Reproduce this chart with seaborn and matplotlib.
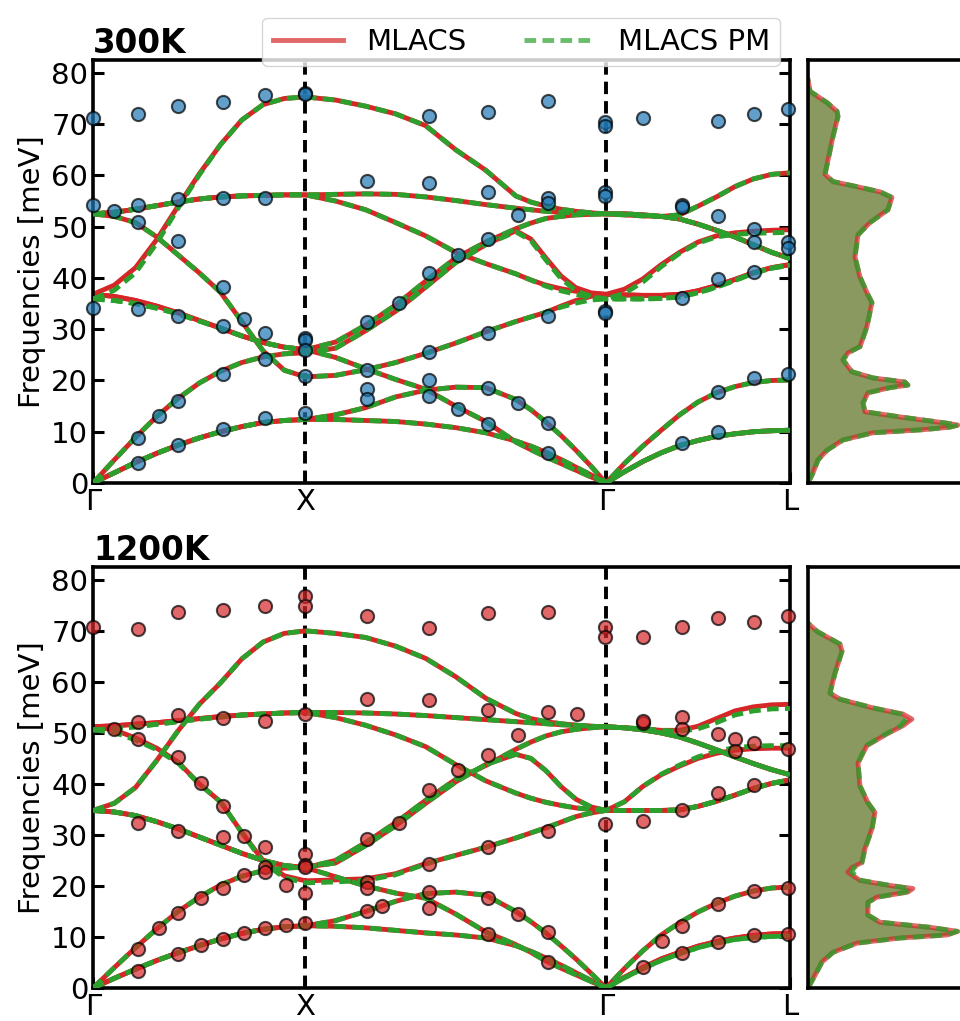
import numpy as np
import pandas as pd
import matplotlib
matplotlib.use("Agg")
import matplotlib.pyplot as plt
from matplotlib.lines import Line2D
import seaborn as sns

RED = "#d62728"
GREEN = "#2ca02c"

# q-path Γ-X-Γ-L of the fcc cell, segment lengths in 2π/a
SEG_LEN = [1.0, np.sqrt(2), np.sqrt(3) / 2]
HSP_LABELS = ["Γ", "X", "Γ", "L"]
T_GX = [0, .1, .2, .3, .4, .5, .6, .7, .8, .9, 1.0]
T_XG = [.1, .2, .3, .4, .5, .6, .7, .75, .8, .85, .9, .95, 1.0]
T_GL = [.1, .2, .3, .4, .5, .6, .7, .8, .9, 1.0]

# ---------------- 300 K ----------------
# Γ-X
gx_ta_300 = [0, 2.0, 4.0, 5.8, 7.4, 8.8, 10.0, 11.0, 11.8, 12.2, 12.4]
gx_la_300 = [0, 4.5, 8.9, 13.0, 16.5, 19.5, 21.8, 23.5, 24.6, 25.2, 25.4]
gx_to_300 = [36.8, 36.4, 35.6, 34.5, 33.2, 31.7, 30.2, 28.7, 27.4, 26.5, 26.0]
gx_to_300_pm = [35.9, 35.6, 35.0, 34.1, 33.0, 31.6, 30.2, 28.7, 27.4, 26.5, 26.0]
gx_lo_300 = [36.8, 38.6, 42.0, 47.5, 54.0, 60.3, 66.0, 70.8, 73.8, 75.0, 75.3]
gx_lo_300_pm = [35.9, 37.6, 41.0, 46.8, 53.6, 60.1, 66.0, 70.8, 73.8, 75.0, 75.3]
gx_rt_300 = [52.5, 52.8, 53.4, 54.1, 54.8, 55.4, 55.8, 56.0, 56.1, 56.2, 56.2]
gx_rl_300 = [52.5, 52.0, 50.8, 48.0, 44.5, 41.0, 37.2, 31.5, 25.8, 22.0, 20.7]
# X-Γ
xg_g1_300 = [12.4, 12.2, 12.0, 11.5, 10.8, 9.8, 8.2, 7.2, 6.0, 4.6, 3.1, 1.6, 0]
xg_g2_300 = [13.3, 14.7, 16.8, 18.1, 18.7, 18.6, 16.3, 14.3, 11.9, 9.3, 6.4, 3.3, 0]
xg_g3_300 = [24.5, 22.3, 20.2, 18.3, 15.0, 12.0, 8.0, 6.5, 5.1, 3.8, 2.5, 1.2, 0]
xg_d_300 = [27.5, 30.8, 34.7, 39.4, 43.9, 47.0, 49.6, 50.7, 51.6, 52.0, 52.3, 52.4, 52.5]
xg_e_300 = [26.3, 29.7, 33.5, 38.2, 43.0, 46.5, 49.2, 47.6, 43.9, 40.4, 38.1, 37.1, 36.8]
xg_e_300_pm = [26.3, 29.7, 33.5, 38.2, 43.0, 46.5, 49.0, 47.3, 43.5, 39.9, 37.5, 36.4, 35.9]
xg_f_300 = [21.0, 22.1, 23.5, 25.3, 27.3, 29.5, 31.5, 32.4, 33.3, 34.5, 35.6, 36.4, 36.8]
xg_f_300_pm = [21.0, 22.1, 23.5, 25.3, 27.3, 29.5, 31.5, 32.4, 33.3, 34.3, 35.1, 35.7, 35.9]
xg_a_300 = [74.7, 73.5, 72.0, 69.7, 65.0, 61.0, 56.0, 54.8, 54.0, 53.4, 53.0, 52.7, 52.5]
xg_b_300 = [56.3, 56.4, 56.3, 55.8, 55.1, 54.3, 53.6, 53.3, 53.0, 52.8, 52.7, 52.6, 52.5]
xg_c_300 = [55.0, 53.3, 50.8, 48.2, 45.0, 42.8, 40.8, 39.6, 38.6, 37.9, 37.4, 37.0, 36.8]
xg_c_300_pm = [55.0, 53.3, 50.8, 48.2, 45.0, 42.8, 40.8, 39.6, 38.4, 37.5, 36.8, 36.2, 35.9]
# Γ-L
gl_ta_300 = [2.2, 4.2, 5.9, 7.3, 8.3, 9.1, 9.6, 10.0, 10.2, 10.3]
gl_la_300 = [3.8, 7.2, 10.3, 13.3, 15.8, 17.6, 18.8, 19.6, 20.0, 20.1]
gl_to_300 = [36.7, 36.6, 36.6, 36.8, 37.5, 38.5, 39.7, 41.0, 42.0, 42.6]
gl_to_300_pm = [35.9, 35.9, 36.0, 36.3, 37.1, 38.2, 39.5, 40.9, 41.9, 42.5]
gl_lo_300 = [37.8, 39.8, 42.6, 45.0, 47.0, 48.2, 48.8, 49.1, 49.3, 49.4]
gl_lo_300_pm = [37.0, 39.2, 42.2, 44.8, 46.8, 48.0, 48.5, 48.7, 48.8, 48.9]
gl_r_300 = [52.5, 52.3, 52.0, 51.5, 50.5, 49.3, 48.0, 46.5, 45.0, 43.8]
gl_top_300 = [52.3, 52.1, 52.0, 52.3, 54.0, 55.8, 57.8, 59.3, 60.2, 60.5]

# ---------------- 1200 K ----------------
gx_ta_1200 = [0, 1.9, 3.7, 5.4, 6.9, 8.3, 9.6, 10.7, 11.5, 12.0, 12.2]
gx_la_1200 = [0, 4.0, 7.9, 11.6, 15.0, 17.8, 20.2, 21.9, 23.0, 23.5, 23.7]
gx_to_1200 = [34.8, 34.5, 33.8, 32.6, 31.2, 29.6, 28.0, 26.4, 25.0, 24.0, 23.6]
gx_lo_1200 = [34.8, 36.2, 39.3, 44.6, 50.4, 55.6, 59.8, 64.5, 67.8, 69.5, 70.0]
gx_rt_1200 = [51.2, 51.4, 51.7, 52.0, 52.4, 52.8, 53.2, 53.5, 53.7, 53.9, 54.0]
gx_rt_1200_pm = [50.6, 50.8, 51.2, 51.7, 52.2, 52.7, 53.1, 53.5, 53.7, 53.9, 54.0]
gx_rl_1200 = [51.2, 50.6, 49.0, 47.0, 44.3, 40.0, 36.5, 30.5, 25.0, 22.0, 21.0]
gx_rl_1200_pm = [50.6, 50.1, 48.6, 46.7, 44.1, 40.0, 36.5, 30.5, 24.7, 21.6, 20.6]
xg_g1_1200 = [12.1, 11.8, 11.3, 10.8, 10.4, 9.8, 8.3, 7.2, 5.9, 4.5, 3.0, 1.5, 0]
xg_g2_1200 = [13.2, 15.0, 17.0, 18.5, 18.8, 18.2, 15.0, 13.0, 10.8, 8.3, 5.7, 2.9, 0]
xg_g3_1200 = [21.8, 20.0, 18.6, 17.6, 14.5, 11.0, 8.5, 7.0, 5.3, 3.9, 2.6, 1.3, 0]
xg_d_1200 = [25.0, 28.5, 32.4, 36.8, 40.9, 43.6, 46.8, 48.2, 49.4, 50.2, 50.7, 51.0, 51.2]
xg_e_1200 = [24.5, 27.9, 31.8, 36.2, 40.4, 43.8, 45.8, 45.0, 42.6, 39.5, 37.0, 35.5, 34.8]
xg_f_1200 = [21.2, 21.4, 22.4, 24.4, 26.0, 27.6, 29.4, 30.4, 31.4, 32.5, 33.6, 34.3, 34.8]
xg_f_1200_pm = [20.8, 21.1, 22.2, 24.3, 26.0, 27.6, 29.4, 30.4, 31.4, 32.5, 33.6, 34.3, 34.8]
xg_a_1200 = [69.5, 68.7, 67.0, 64.6, 61.0, 56.8, 53.8, 52.8, 52.2, 51.8, 51.5, 51.3, 51.2]
xg_b_1200 = [54.0, 53.9, 53.7, 53.4, 53.0, 52.6, 52.2, 52.0, 51.8, 51.6, 51.5, 51.3, 51.2]
xg_c_1200 = [53.0, 51.5, 49.6, 47.3, 43.8, 40.6, 38.2, 37.2, 36.4, 35.8, 35.3, 35.0, 34.8]
gl_ta_1200 = [2.1, 4.0, 5.7, 7.0, 8.2, 9.1, 9.8, 10.3, 10.6, 10.7]
gl_ta_1200_pm = [2.0, 3.8, 5.4, 6.7, 7.9, 8.8, 9.5, 9.9, 10.1, 10.2]
gl_la_1200 = [3.8, 7.3, 10.4, 12.8, 14.9, 16.6, 18.0, 19.0, 19.6, 19.8]
gl_to_1200 = [34.8, 34.8, 34.8, 34.9, 35.6, 36.6, 37.8, 39.1, 40.1, 40.8]
gl_lo_1200 = [36.5, 39.5, 41.8, 43.5, 45.0, 46.0, 46.6, 46.9, 47.0, 47.0]
gl_lo_1200_pm = [36.5, 39.5, 41.9, 43.7, 45.3, 46.4, 47.1, 47.4, 47.5, 47.5]
gl_r_1200 = [51.0, 50.6, 50.0, 49.2, 48.0, 46.7, 45.3, 44.0, 42.8, 41.8]
gl_top_1200 = [51.0, 50.8, 50.5, 50.5, 51.3, 52.8, 54.3, 55.1, 55.5, 55.6]
gl_top_1200_pm = [51.0, 50.8, 50.5, 50.3, 50.8, 52.0, 53.5, 54.3, 54.7, 54.8]

# experimental points (k, meV)
exp_300 = [
    (0.00, 71.2), (0.21, 71.9), (0.40, 73.5), (0.61, 74.4), (0.81, 75.6), (1.00, 76.1), (1.00, 75.8),
    (1.58, 71.5), (1.86, 72.3), (2.14, 74.6), (2.41, 70.5), (2.41, 69.7), (2.59, 71.1), (2.94, 70.7),
    (3.11, 71.9), (3.27, 72.9), (1.29, 59.0), (1.58, 58.6), (1.86, 56.7), (2.14, 55.6), (2.14, 54.7),
    (2.41, 56.7), (2.41, 55.9), (2.00, 52.2), (0.00, 54.3), (0.10, 53.1), (0.21, 54.3), (0.21, 51.0),
    (0.40, 55.3), (0.61, 55.5), (0.81, 55.5), (0.40, 47.3), (1.72, 44.5), (1.86, 47.6), (2.77, 54.3),
    (2.77, 53.9), (2.94, 52.0), (3.11, 49.6), (3.11, 47.1), (3.27, 47.1), (3.27, 45.9), (0.00, 34.2),
    (0.21, 34.0), (0.40, 32.6), (0.61, 38.3), (0.61, 30.7), (0.71, 32.0), (0.81, 29.3), (0.81, 24.2),
    (1.00, 28.3), (1.00, 27.9), (1.00, 26.0), (1.00, 20.9), (1.00, 13.7), (0.21, 8.8), (0.31, 13.1),
    (0.40, 16.0), (0.61, 21.3), (0.21, 3.9), (0.40, 7.4), (0.61, 10.5), (0.81, 12.7), (1.29, 31.4),
    (1.44, 35.2), (1.58, 41.0), (1.29, 22.1), (1.29, 18.4), (1.29, 16.4), (1.58, 25.6), (1.58, 20.1),
    (1.58, 17.0), (1.72, 14.5), (1.86, 29.3), (2.14, 32.6), (2.41, 33.6), (2.41, 33.2), (2.77, 36.1),
    (2.94, 39.8), (3.11, 41.2), (1.86, 18.6), (1.86, 11.5), (2.00, 15.6), (2.14, 11.7), (2.14, 5.8),
    (2.77, 7.8), (2.94, 10.0), (2.94, 17.8), (3.11, 20.5), (3.27, 21.3),
]
exp_1200 = [
    (0.00, 70.7), (0.21, 70.3), (0.40, 73.6), (0.61, 74.0), (0.81, 74.8), (1.00, 76.8), (1.00, 74.8),
    (1.29, 72.9), (1.58, 70.5), (1.86, 73.4), (2.14, 73.6), (2.41, 70.7), (2.41, 68.7), (2.59, 68.7),
    (2.77, 70.7), (2.94, 72.5), (3.11, 71.7), (3.27, 72.9), (1.29, 56.6), (1.58, 56.4), (1.86, 54.5),
    (2.14, 54.1), (2.28, 53.7), (0.10, 50.8), (0.21, 52.1), (0.21, 48.8), (0.40, 53.5), (0.61, 52.9),
    (0.81, 52.3), (1.00, 53.7), (0.40, 45.3), (0.51, 40.2), (1.72, 42.8), (1.58, 38.9), (1.86, 45.7),
    (2.00, 49.6), (2.59, 52.0), (2.59, 52.3), (2.77, 53.1), (2.77, 50.8), (2.94, 49.8), (3.02, 48.8),
    (3.02, 46.5), (3.11, 48.0), (3.27, 46.9), (0.61, 35.7), (0.71, 29.7), (0.81, 27.7), (0.81, 23.8),
    (0.81, 22.7), (0.91, 20.1), (1.00, 26.2), (1.00, 24.2), (1.00, 23.8), (1.00, 18.6), (0.21, 32.4),
    (0.40, 30.7), (0.61, 29.5), (0.71, 22.1), (0.61, 19.7), (0.51, 17.6), (0.40, 14.8), (0.31, 11.7),
    (0.21, 7.6), (0.21, 3.3), (0.40, 6.6), (0.51, 8.4), (0.61, 9.6), (0.71, 10.7), (0.81, 11.7),
    (0.91, 12.3), (1.00, 12.7), (1.29, 29.3), (1.29, 20.7), (1.29, 19.7), (1.44, 32.4), (1.58, 24.4),
    (1.58, 18.8), (1.58, 15.6), (1.29, 15.0), (1.36, 16.0), (2.14, 30.7), (1.86, 27.7), (2.41, 32.2),
    (2.59, 32.8), (2.77, 34.8), (2.94, 38.3), (3.11, 39.8), (1.86, 17.6), (2.00, 14.6), (2.14, 10.9),
    (1.86, 10.5), (2.14, 5.1), (2.59, 4.1), (2.68, 9.2), (2.77, 12.1), (2.94, 16.4), (3.11, 19.0),
    (3.27, 19.7), (2.77, 6.8), (2.94, 9.0), (3.11, 10.4), (3.27, 10.5),
]

# phonon DOS (arb. units) vs frequency (meV)
dos_freq_300 = [0, 2.0, 4.5, 6.4, 8.4, 9.8, 10.4, 10.9, 11.3, 11.7, 12.9, 13.9, 15.6, 17.6, 18.6,
                19.1, 19.7, 20.5, 21.7, 24.0, 25.4, 26.6, 30.5, 35.2, 36.7, 40.2, 44.1, 48.4,
                50.8, 53.3, 55.7, 56.8, 57.8, 58.8, 60.2, 67.6, 71.5, 72.5, 74.2, 76.4, 78.7]
dos_300 = [0, .05, .10, .19, .35, .65, 1.15, 1.42, 1.50, 1.38, .92, .57, .55, .60, .82,
           1.00, .97, .65, .44, .35, .40, .52, .59, .64, .60, .52, .47, .50,
           .62, .80, .84, .72, .49, .25, .17, .25, .30, .29, .19, .02, 0]
dos_300_pm = dos_300
dos_freq_1200 = [0, 2.5, 5.1, 7.0, 8.8, 9.8, 10.4, 11.1, 11.9, 12.9, 14.3, 16.8, 17.8, 18.8, 19.5,
                 20.1, 21.1, 22.7, 23.6, 24.6, 27.3, 31.2, 34.4, 36.3, 39.6, 44.1, 47.5, 49.8,
                 51.4, 52.7, 53.7, 54.9, 56.6, 57.8, 61.7, 66.0, 67.4, 69.9, 71.5]
dos_1200 = [0, .07, .14, .25, .49, .92, 1.39, 1.50, 1.22, .72, .60, .60, .69, 1.00, 1.05,
            .82, .52, .40, .44, .54, .57, .64, .67, .60, .52, .50, .59, .79,
            .95, 1.04, .95, .65, .32, .22, .27, .34, .32, .09, 0]
dos_1200_pm = [0, .07, .14, .25, .49, .92, 1.39, 1.49, 1.22, .72, .60, .60, .69, .98, 1.02,
               .82, .53, .44, .46, .54, .57, .64, .67, .60, .52, .50, .58, .78,
               .93, .98, .93, .65, .32, .22, .27, .34, .32, .09, 0]

KPATH = np.concatenate([
    np.array(T_GX) * SEG_LEN[0],
    SEG_LEN[0] + np.array(T_XG) * SEG_LEN[1],
    SEG_LEN[0] + SEG_LEN[1] + np.array(T_GL) * SEG_LEN[2],
])
HSP_K = np.cumsum([0] + SEG_LEN)


def bands_frame(branches):
    """Long table k / freq / branch for seaborn."""
    parts = [pd.DataFrame({"k": KPATH, "freq": f, "branch": i}) for i, f in enumerate(branches)]
    return pd.concat(parts, ignore_index=True)


mlacs_300 = bands_frame([
    gx_ta_300 + xg_g1_300 + gl_ta_300,
    gx_ta_300 + xg_g2_300 + gl_ta_300,
    gx_la_300 + xg_e_300 + gl_to_300,
    gx_to_300 + xg_g3_300 + gl_la_300,
    gx_to_300 + xg_d_300 + gl_r_300,
    gx_lo_300 + xg_a_300 + gl_top_300,
    gx_rt_300 + xg_b_300 + gl_r_300,
    gx_rt_300 + xg_c_300 + gl_to_300,
    gx_rl_300 + xg_f_300 + gl_lo_300,
])
pm_300 = bands_frame([
    gx_ta_300 + xg_g1_300 + gl_ta_300,
    gx_ta_300 + xg_g2_300 + gl_ta_300,
    gx_la_300 + xg_e_300_pm + gl_to_300_pm,
    gx_to_300_pm + xg_g3_300 + gl_la_300,
    gx_to_300_pm + xg_d_300 + gl_r_300,
    gx_lo_300_pm + xg_a_300 + gl_top_300,
    gx_rt_300 + xg_b_300 + gl_r_300,
    gx_rt_300 + xg_c_300_pm + gl_to_300_pm,
    gx_rl_300 + xg_f_300_pm + gl_lo_300_pm,
])
mlacs_1200 = bands_frame([
    gx_ta_1200 + xg_g1_1200 + gl_ta_1200,
    gx_ta_1200 + xg_g2_1200 + gl_ta_1200,
    gx_la_1200 + xg_e_1200 + gl_to_1200,
    gx_to_1200 + xg_g3_1200 + gl_la_1200,
    gx_to_1200 + xg_d_1200 + gl_r_1200,
    gx_lo_1200 + xg_a_1200 + gl_top_1200,
    gx_rt_1200 + xg_b_1200 + gl_r_1200,
    gx_rt_1200 + xg_c_1200 + gl_to_1200,
    gx_rl_1200 + xg_f_1200 + gl_lo_1200,
])
pm_1200 = bands_frame([
    gx_ta_1200 + xg_g1_1200 + gl_ta_1200_pm,
    gx_ta_1200 + xg_g2_1200 + gl_ta_1200_pm,
    gx_la_1200 + xg_e_1200 + gl_to_1200,
    gx_to_1200 + xg_g3_1200 + gl_la_1200,
    gx_to_1200 + xg_d_1200 + gl_r_1200,
    gx_lo_1200 + xg_a_1200 + gl_top_1200_pm,
    gx_rt_1200_pm + xg_b_1200 + gl_r_1200,
    gx_rt_1200_pm + xg_c_1200 + gl_to_1200,
    gx_rl_1200_pm + xg_f_1200_pm + gl_lo_1200_pm,
])

YMAX = 82.5
FS = 21
LW_SPINE = 2.6
LW_BAND = 3.5
PM_DASH = (0, (2.4, 1.3))

plt.rcParams["font.family"] = ["DejaVu Sans"]
fig = plt.figure(figsize=(9.6, 10.21), dpi=100)


def style_box(ax):
    for sp in ax.spines.values():
        sp.set_linewidth(LW_SPINE)
        sp.set_color("black")


def plot_bands(ax, mlacs, pm, exp, exp_color, title):
    for k in HSP_K[1:-1]:
        ax.axvline(k, color="black", ls=(0, (3.2, 1.8)), lw=2.8, zorder=1)
    sns.lineplot(data=mlacs, x="k", y="freq", units="branch", estimator=None, sort=False,
                 color=RED, lw=LW_BAND, ax=ax, legend=False, zorder=2)
    sns.lineplot(data=pm, x="k", y="freq", units="branch", estimator=None, sort=False,
                 color=GREEN, lw=LW_BAND, linestyle=PM_DASH, ax=ax, legend=False, zorder=3)
    ek, ef = zip(*exp)
    sns.scatterplot(x=list(ek), y=list(ef), color=exp_color, alpha=0.7, s=90,
                    edgecolor="black", linewidth=1.5, ax=ax, zorder=4, clip_on=False)
    ax.set_xlim(HSP_K[0], HSP_K[-1])
    ax.set_ylim(0, YMAX)
    ax.set_xticks(HSP_K)
    ax.set_xticklabels(HSP_LABELS)
    ax.set_yticks(range(0, 81, 10))
    ax.tick_params(axis="both", direction="in", labelsize=FS, length=8, width=2.2,
                   left=True, right=True, top=False)
    ax.set_xlabel("")
    ax.set_ylabel("Frequencies [meV]", fontsize=FS)
    ax.set_title(title, loc="left", fontweight="bold", fontsize=23.5, pad=2)
    style_box(ax)


def plot_dos(ax, freq, dos, dos_pm):
    ax.fill_betweenx(freq, 0, dos, color=RED, alpha=0.5, lw=0)
    ax.fill_betweenx(freq, 0, dos_pm, color=GREEN, alpha=0.5, lw=0)
    sns.lineplot(x=dos, y=freq, sort=False, estimator=None, color=RED, lw=3.5, alpha=0.7, ax=ax)
    sns.lineplot(x=dos_pm, y=freq, sort=False, estimator=None,
                 color=GREEN, lw=3.5, alpha=0.8, linestyle=PM_DASH, ax=ax)
    ax.set_ylim(0, YMAX)
    ax.set_xlim(0, 1.73)
    ax.set_xticks([])
    ax.set_yticks([])
    ax.set_xlabel("")
    ax.set_ylabel("")
    style_box(ax)


ax_top = fig.add_axes([0.0969, 0.5269, 0.7260, 0.4143])
ax_top_dos = fig.add_axes([0.8417, 0.5269, 0.18, 0.4143])
ax_bot = fig.add_axes([0.0969, 0.0323, 0.7260, 0.4123])
ax_bot_dos = fig.add_axes([0.8417, 0.0323, 0.18, 0.4123])

plot_bands(ax_top, mlacs_300, pm_300, exp_300, "#1f77b4", "300K")
plot_bands(ax_bot, mlacs_1200, pm_1200, exp_1200, RED, "1200K")
plot_dos(ax_top_dos, dos_freq_300, dos_300, dos_300_pm)
plot_dos(ax_bot_dos, dos_freq_1200, dos_1200, dos_1200_pm)

handles = [Line2D([], [], color=RED, lw=3.5, alpha=0.7),
           Line2D([], [], color=GREEN, lw=3.5, alpha=0.7, linestyle=PM_DASH)]
fig.legend(handles, ["MLACS", "MLACS PM"], loc="upper center", bbox_to_anchor=(0.543, 0.997),
           ncol=2, fontsize=FS, handlelength=2.4, columnspacing=2.0, borderpad=0.35)

fig.savefig("out.png", dpi=100)
